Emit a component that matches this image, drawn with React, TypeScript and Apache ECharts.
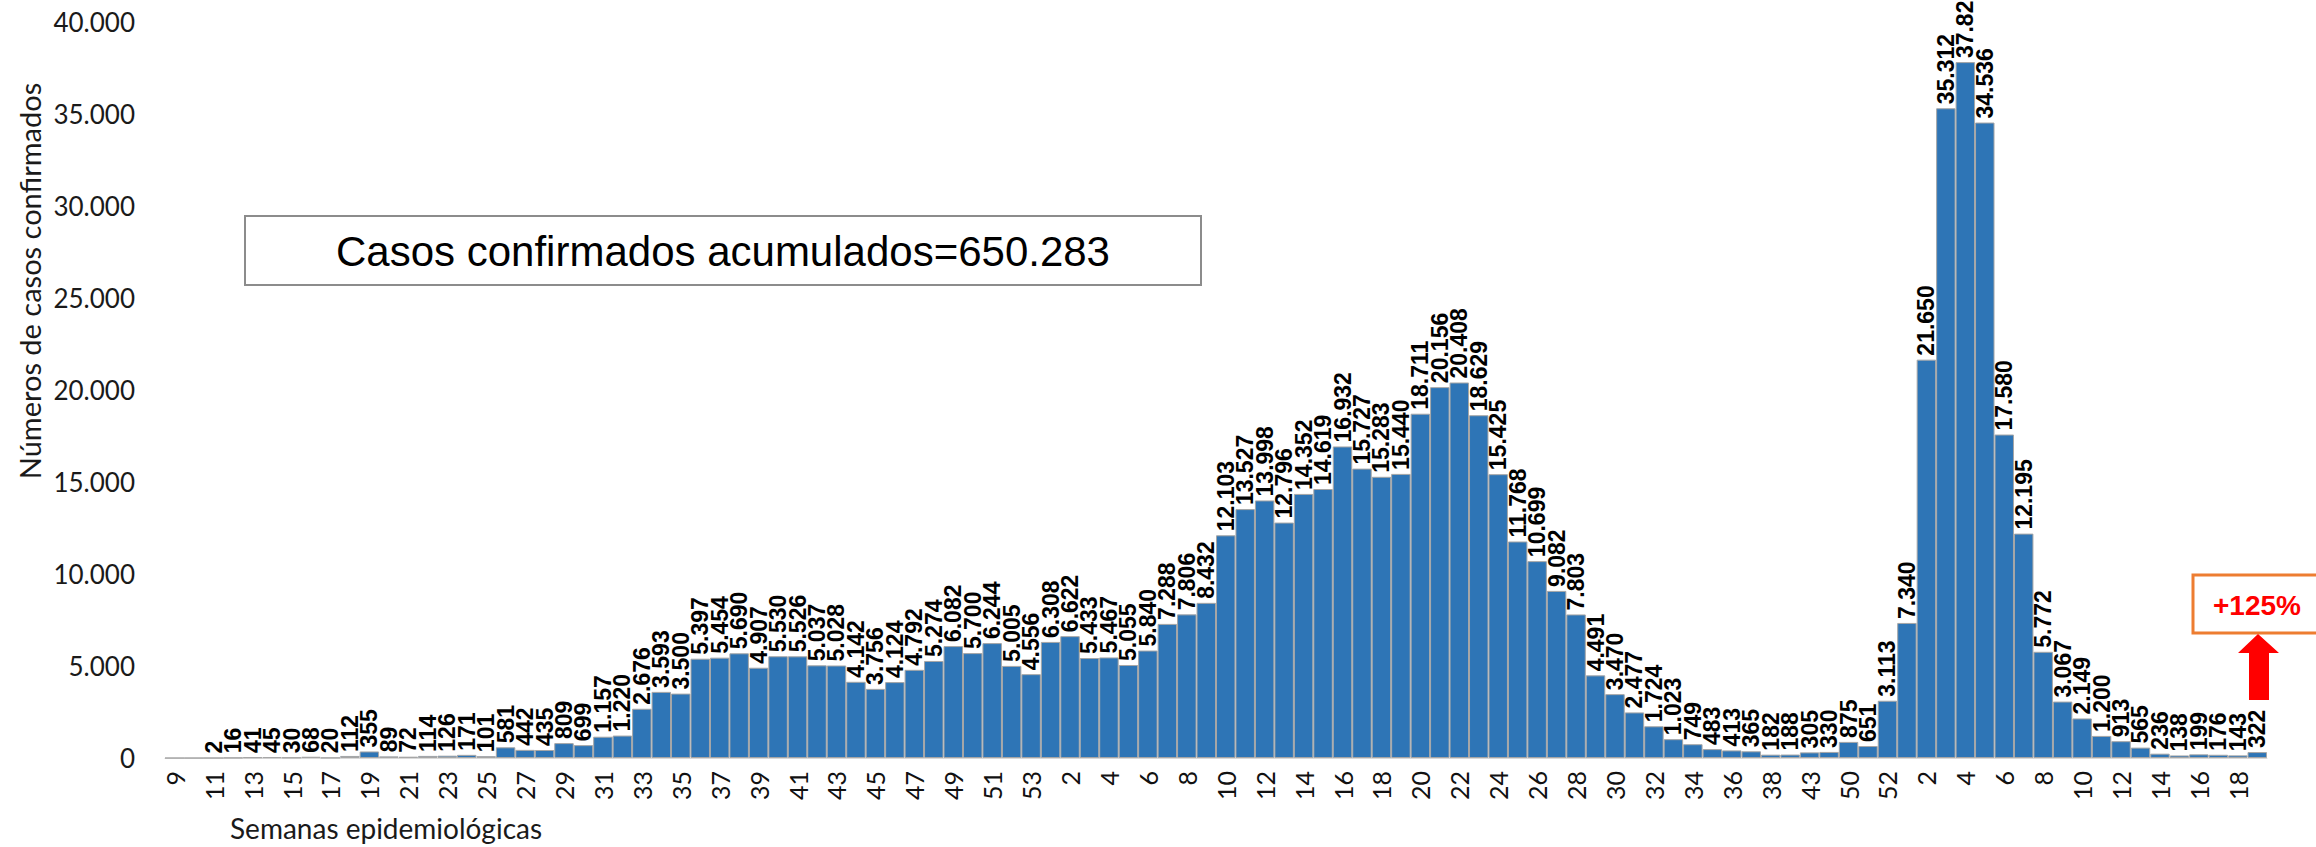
import React, { useEffect, useRef } from "react";
import * as echarts from "echarts";

// Epidemiological weeks (category labels), by year
const weeks2020 = ["9","10","11","12","13","14","15","16","17","18","19","20","21","22","23","24","25","26","27","28","29","30","31","32","33","34","35","36","37","38","39","40","41","42","43","44","45","46","47","48","49","50","51","52","53"];
const weeks2021 = ["1","2","3","4","5","6","7","8","9","10","11","12","13","14","15","16","17","18","19","20","21","22","23","24","25","26","27","28","29","30","31","32","33","34","35","36","37","38","39","43","44","50","51","52"];
const weeks2022 = ["1","2","3","4","5","6","7","8","9","10","11","12","13","14","15","16","17","18","19"];

// Confirmed cases per week
const cases2020 = [0,0,2,16,41,45,30,68,20,112,355,89,72,114,126,171,101,581,442,435,809,699,1157,1220,2676,3593,3500,5397,5454,5690,4907,5530,5526,5037,5028,4142,3756,4124,4792,5274,6082,5700,6244,5005,4556];
const cases2021 = [6308,6622,5433,5467,5055,5840,7288,7806,8432,12103,13527,13998,12796,14352,14619,16932,15727,15283,15440,18711,20156,20408,18629,15425,11768,10699,9082,7803,4491,3470,2477,1724,1023,749,483,413,365,182,188,305,330,875,651,3113];
const cases2022 = [7340,21650,35312,37820,34536,17580,12195,5772,3067,2149,1200,913,565,236,138,199,176,143,322];

const yTicks = [0, 5000, 10000, 15000, 20000, 25000, 30000, 35000, 40000];

const totalText = "Casos confirmados acumulados=650.283";
const changeText = "+125%";
const yTitle = "Números de casos confirmados";
const xTitle = "Semanas epidemiológicas";

const fmt = (v: number) => String(Math.round(v)).replace(/\B(?=(\d{3})+(?!\d))/g, ".");

export default function App() {
  const ref = useRef<HTMLDivElement>(null);
  useEffect(() => {
    if (!ref.current) return;
    const chart = echarts.init(ref.current, undefined, { renderer: "svg" });
    const categories = [...weeks2020, ...weeks2021, ...weeks2022];
    const values = [...cases2020, ...cases2021, ...cases2022];
    chart.setOption({
      animation: false,
      backgroundColor: "#ffffff",
      grid: { left: 165, right: 49, top: 22, bottom: 89, containLabel: false },
      xAxis: {
        type: "category",
        data: categories,
        boundaryGap: true,
        axisLine: { show: true, lineStyle: { color: "#D9D9D9", width: 1 } },
        axisTick: { show: false },
        axisLabel: {
          interval: 1,
          rotate: 90,
          margin: 13,
          fontFamily: "Lato",
          fontSize: 25,
          color: "#111111",
        },
        splitLine: { show: false },
      },
      yAxis: {
        type: "value",
        min: yTicks[0],
        max: yTicks[yTicks.length - 1],
        interval: 5000,
        axisLine: { show: false },
        axisTick: { show: false },
        splitLine: { show: false },
        axisLabel: {
          margin: 30,
          fontFamily: "Lato",
          fontSize: 26,
          color: "#1a1a1a",
          formatter: (v: number) => fmt(v),
        },
      },
      series: [
        {
          type: "bar",
          data: values,
          barWidth: "100%",
          barCategoryGap: "0%",
          itemStyle: { color: "#2E75B6", borderColor: "#A6A6A6", borderWidth: 1 },
          label: {
            show: true,
            position: "top",
            rotate: 90,
            align: "left",
            verticalAlign: "middle",
            distance: 4,
            fontFamily: "Liberation Sans, Arial, sans-serif",
            fontWeight: "bold",
            fontSize: 23,
            color: "#000000",
            formatter: (p: any) => (p.value > 0 ? fmt(p.value) : ""),
          },
        },
      ],
      graphic: [
        {
          type: "text",
          x: 29,
          y: 281,
          rotation: Math.PI / 2,
          style: {
            text: yTitle,
            fontFamily: "Lato",
            fontSize: 29,
            fill: "#1a1a1a",
            align: "center",
            verticalAlign: "middle",
          },
        },
        {
          type: "text",
          x: 230,
          y: 828,
          style: {
            text: xTitle,
            fontFamily: "Lato",
            fontSize: 28,
            fill: "#1a1a1a",
            align: "left",
            verticalAlign: "middle",
          },
        },
        {
          type: "rect",
          shape: { x: 245, y: 216, width: 956, height: 69 },
          style: { fill: "#ffffff", stroke: "#8C8C8C", lineWidth: 2 },
          z: 10,
        },
        {
          type: "text",
          x: 723,
          y: 251,
          z: 11,
          style: {
            text: totalText,
            fontFamily: "Liberation Sans, Arial, sans-serif",
            fontSize: 42,
            fill: "#000000",
            align: "center",
            verticalAlign: "middle",
          },
        },
        {
          type: "rect",
          shape: { x: 2193, y: 575, width: 140, height: 58 },
          style: { fill: "#ffffff", stroke: "#ED7D31", lineWidth: 3 },
          z: 10,
        },
        {
          type: "text",
          x: 2257,
          y: 605,
          z: 11,
          style: {
            text: changeText,
            fontFamily: "Liberation Sans, Arial, sans-serif",
            fontWeight: "bold",
            fontSize: 28,
            fill: "#FF0000",
            align: "center",
            verticalAlign: "middle",
          },
        },
        {
          type: "polygon",
          z: 10,
          shape: {
            points: [
              [2258, 634],
              [2279, 653],
              [2269, 653],
              [2269, 700],
              [2249, 700],
              [2249, 653],
              [2238, 653],
            ],
          },
          style: { fill: "#FF0000" },
        },
      ],
    });
    return () => chart.dispose();
  }, []);
  return (
    <div
      ref={ref}
      style={{ position: "absolute", left: 0, top: 0, width: 2316, height: 847, background: "#fff" }}
    />
  );
}
